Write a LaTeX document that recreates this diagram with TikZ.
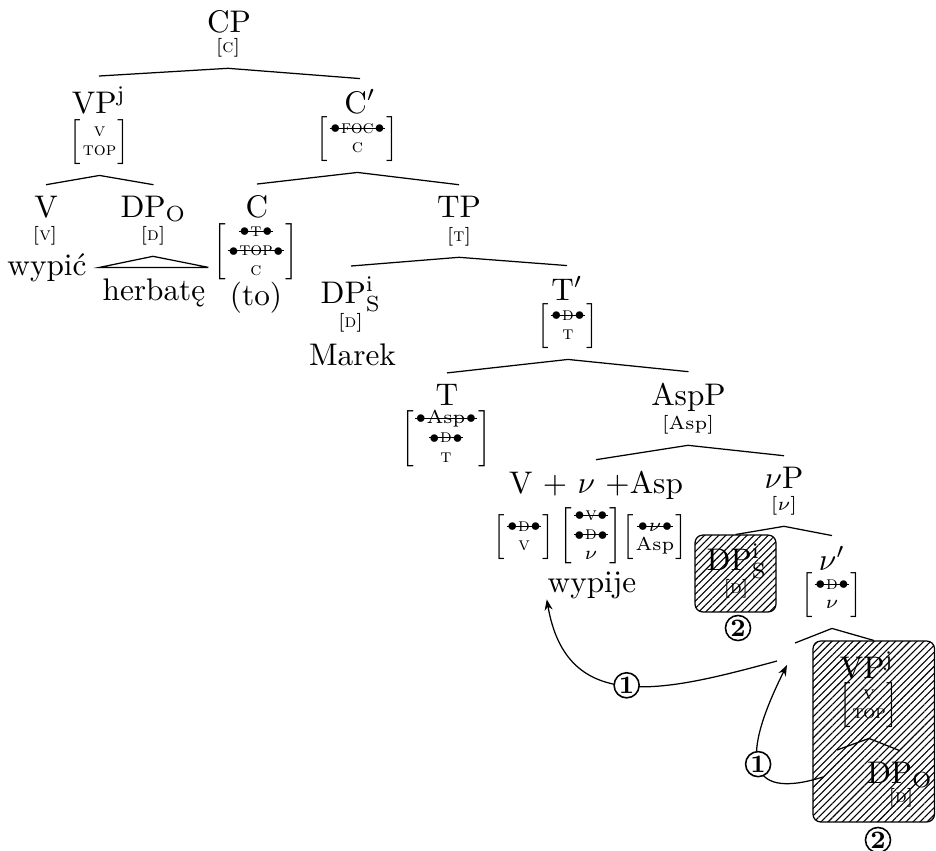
\documentclass[tikz,border=0pt]{standalone}
\usepackage{amsmath}
\usetikzlibrary{arrows.meta,patterns.meta}

\newlength{\ftwd}
\newcommand{\bul}{\raisebox{0.2pt}{\fontsize{4.8}{5}\selectfont$\bullet$}}
\newcommand{\chk}[1]{\settowidth{\ftwd}{\bul#1\bul}\makebox[0pt][l]{\rule[1.4pt]{\ftwd}{0.35pt}}\bul#1\bul}
\newcommand{\ftr}[1]{\renewcommand{\arraystretch}{0.88}$\left[\begin{tabular}{@{\hspace{0.4pt}}c@{\hspace{0.4pt}}}#1\end{tabular}\right]$}
\newcommand{\ftone}[1]{[#1]}

\begin{document}
\begin{tikzpicture}[x=0.32pt, y=-0.32pt, >={Stealth[length=3.5pt,width=2.6pt]},
  lab/.style={inner sep=1pt, outer sep=2.5pt, anchor=base},
  ft/.style={inner sep=1pt, outer sep=2.5pt, font=\fontsize{6}{7}\selectfont},
  numc/.style={circle, draw, line width=0.5pt, fill=white, inner sep=0.3pt, font=\footnotesize\bfseries},
  hatched/.style={draw, rounded corners=2.5pt, pattern={Lines[angle=45,distance=1.6pt,line width=0.35pt]}}]
\useasboundingbox (0,0) rectangle (936,851);

\node[lab] (cp) at (229,32) {CP};
\node[ft] (cpf) at (228,48) {\ftone{\textsc{c}}};

\node[lab] (vpj) at (99,113) {VP$^{\mathrm{j}}$};
\node[ft] (vpjf) at (99.5,142) {\ftr{\textsc{v}\\\textsc{top}}};
\node[lab] (cbar) at (360,113) {C$'$};
\node[ft] (cbarf) at (357.5,139) {\ftr{\chk{\textsc{foc}}\\\textsc{c}}};
\draw (vpj.north) -- (cpf.south) -- (cbar.north);

\node[lab] (v) at (46,217) {V};
\node[ft] (vf) at (45,236) {\ftone{\textsc{v}}};
\node[lab] (wypic) at (47,275) {wypić};
\node[lab] (dpo) at (153.5,217) {DP$_{\mathrm{O}}$};
\node[ft] (dpof) at (153,236) {\ftone{\textsc{d}}};
\node[lab, inner xsep=0pt, outer xsep=1pt] (herb) at (154,300) {herbatę};
\draw (v.north) -- (vpjf.south) -- (dpo.north);
\draw (dpof.south) -- (herb.north west) -- (herb.north east) -- cycle;

\node[lab] (c) at (257,217) {C};
\node[ft] (cf) at (256,252) {\ftr{\chk{\textsc{t}}\\\chk{\textsc{top}}\\\textsc{c}}};
\node[lab] (to) at (256,305) {(to)};
\node[lab] (tp) at (459,217) {TP};
\node[ft] (tpf) at (459,237) {\ftone{\textsc{t}}};
\draw (c.north) -- (cbarf.south) -- (tp.north);

\node[lab] (dps) at (351,303) {DP$^{\mathrm{i}}_{\mathrm{S}}$};
\node[ft] (dpsf) at (350.5,323) {\ftone{\textsc{d}}};
\node[lab] (marek) at (352.5,365) {Marek};
\node[lab] (tbar) at (567,300) {T$'$};
\node[ft] (tbarf) at (568,326) {\ftr{\chk{\textsc{d}}\\\textsc{t}}};
\draw (dps.north) -- (tpf.south) -- (tbar.north);

\node[lab] (t) at (447,405) {T};
\node[ft] (tf) at (446,439) {\ftr{\chk{Asp}\\\chk{\textsc{d}}\\\textsc{t}}};
\node[lab] (aspp) at (688.5,405) {AspP};
\node[ft] (aspf) at (688,425) {\ftone{Asp}};
\draw (t.north) -- (tbarf.south) -- (aspp.north);

\node[lab] (vhead) at (596,493) {V + $\nu$ +Asp};
\node[ft] (vhf1) at (524,537) {\ftr{\chk{\textsc{d}}\\\textsc{v}}};
\node[ft] (vhf2) at (591,536) {\ftr{\chk{\textsc{v}}\\\chk{\textsc{d}}\\$\nu$}};
\node[ft] (vhf3) at (655,537) {\ftr{\chk{$\nu$}\\Asp}};
\node[lab] (wypije) at (592,592) {wypije};
\node[lab] (vp) at (784,488) {$\nu$P};
\node[ft] (vpf) at (784,506) {\ftone{$\nu$}};
\draw (vhead.north) -- (aspf.south) -- (vp.north);

\node[lab] (dps2) at (737,570) {DP$^{\mathrm{i}}_{\mathrm{S}}$};
\node[ft] (dps2f) at (736,589) {\ftone{\textsc{d}}};
\node[hatched, minimum width=25.9pt, minimum height=24.6pt] (dpbox) at (735.5,573.5) {};
\node[numc, fill=none] (two1) at (738,628) {2};
\node[lab] (vbar) at (832,570) {$\nu'$};
\node[ft] (vbarf) at (832,595) {\ftr{\chk{\textsc{d}}\\$\nu$}};
\draw (dpbox.north) -- (vpf.south) -- (vbar.north);

\coordinate (vvtrace) at (795,643);
\coordinate (vtrace) at (837,750);
\node[lab] (vpj2) at (867,678) {VP$^{\mathrm{j}}$};
\node[ft] (vpj2f) at (869,705) {\ftr{\textsc{v}\\\textsc{top}}};
\node[lab] (dpo2) at (900,783) {DP$_{\mathrm{O}}$};
\node[ft] (dpo2f) at (901,798) {\ftone{\textsc{d}}};
\draw (vtrace) -- (vpj2f.south) -- (dpo2.north);
\node[hatched, minimum width=38.9pt, minimum height=57.9pt] (vpbox) at (873.75,731.5) {};
\node[numc, fill=none] (two2) at (878,840) {2};
\draw (vvtrace) -- (vbarf.south) -- (vpbox.north);

\coordinate (vmove) at (777,661);
\coordinate (dpomove) at (823,777);
\coordinate (vland) at (787,665);
\draw[->] (vmove) .. controls +(-114,31) and +(20,116) .. ([shift={(10,-10)}]wypije.south west) node[numc, pos=0.5] (one1) {1};
\draw[->] (dpomove) .. controls +(-80,25) and +(-45,90) .. (vland) node[numc, pos=0.5] (one2) {1};
\end{tikzpicture}
\end{document}
